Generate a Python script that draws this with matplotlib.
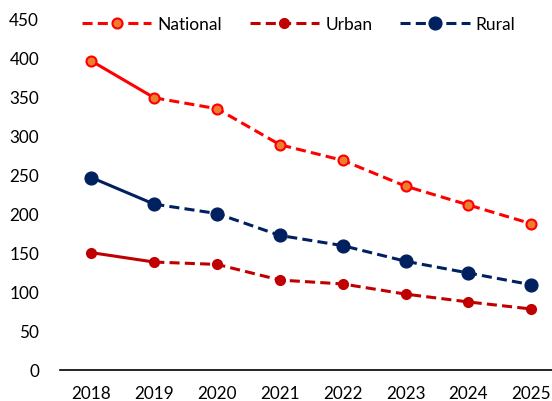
import matplotlib.pyplot as plt
from matplotlib.lines import Line2D

years = ["2018", "2019", "2020", "2021", "2022", "2023", "2024", "2025"]
national = [395, 348, 334, 288, 268, 235, 211, 187]
urban = [150, 138, 135, 115, 110, 97, 87, 78]
rural = [246, 212, 200, 172, 159, 139, 124, 109]

plt.rcParams["font.family"] = ["Lato", "DejaVu Sans"]

fig = plt.figure(figsize=(5.52, 4.02), dpi=100)
ax = fig.add_axes([60 / 552, 31 / 402, 492 / 552, 352 / 402])

x = list(range(len(years)))

series = [
    ("National", national, "#FF0000", "#ED7D31", 7.2, 1.5),
    ("Urban", urban, "#C00000", "#C00000", 7, 1),
    ("Rural", rural, "#002060", "#002060", 9.2, 1),
]
dash = (0, (3.3, 1.7))

handles = []
for name, vals, col, face, ms, mew in series:
    # first interval solid, the rest dashed
    ax.plot(x[:2], vals[:2], color=col, lw=2.2, solid_capstyle="round", zorder=2)
    ax.plot(x[1:], vals[1:], color=col, lw=2.2, ls=dash, zorder=2)
    ax.plot(x, vals, ls="none", marker="o", ms=ms, mfc=face, mec=col, mew=mew, zorder=3)
    handles.append(Line2D([], [], color=col, lw=2.2, ls=dash,
                          marker="o", ms=ms, mfc=face, mec=col, mew=mew))

ax.set_xlim(-0.5, 7.33)
ax.set_ylim(0, 450)
ax.set_xticks(x)
ax.set_xticklabels(years)
ax.set_yticks(range(0, 451, 50))

for s in ["top", "right", "left"]:
    ax.spines[s].set_visible(False)
ax.spines["bottom"].set_linewidth(1.2)
ax.tick_params(axis="both", length=0, labelsize=12.3, colors="#000000")
ax.tick_params(axis="x", pad=11)
ax.tick_params(axis="y", pad=15)

ax.legend(handles, [s[0] for s in series], ncol=3, frameon=False,
          loc="center", bbox_to_anchor=(0.485, 1 - 6 / 352),
          fontsize=12.5, handlelength=4.0, columnspacing=1.6, handletextpad=0.35)

fig.savefig("out.png", dpi=100)
